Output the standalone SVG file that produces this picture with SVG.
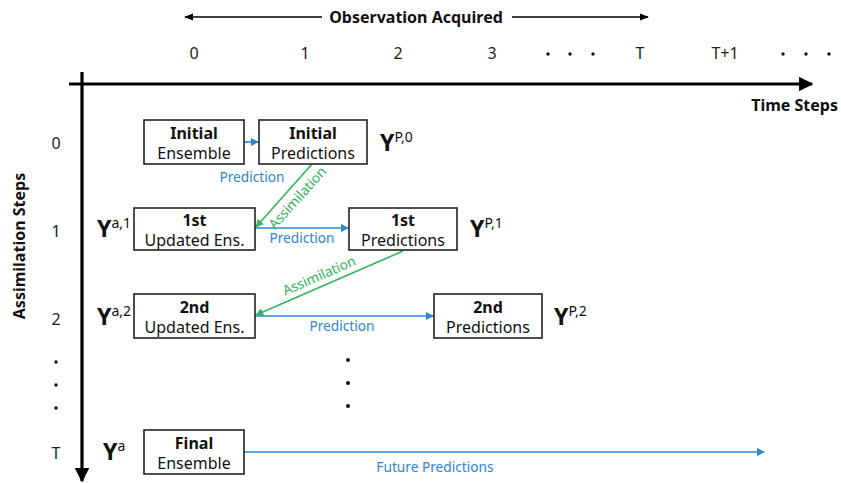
<svg xmlns="http://www.w3.org/2000/svg" width="841" height="483" viewBox="0 0 841 483">
  <defs>
    <marker id="ahBlack" viewBox="0 0 10 10" refX="9" refY="5" markerWidth="4.5" markerHeight="4.5" orient="auto" markerUnits="strokeWidth">
      <path d="M0,0 L10,5 L0,10 z" fill="#000"/>
    </marker>
    <marker id="ahThin" viewBox="0 0 10 10" refX="9" refY="5" markerWidth="6" markerHeight="6" orient="auto-start-reverse" markerUnits="strokeWidth">
      <path d="M0,1 L10,5 L0,9 z" fill="#000"/>
    </marker>
    <marker id="ahBlue" viewBox="0 0 10 10" refX="9" refY="5" markerWidth="5" markerHeight="5" orient="auto" markerUnits="strokeWidth">
      <path d="M0,0 L10,5 L0,10 z" fill="#2e86d4"/>
    </marker>
    <marker id="ahGreen" viewBox="0 0 10 10" refX="9" refY="5" markerWidth="5" markerHeight="5" orient="auto" markerUnits="strokeWidth">
      <path d="M0,0 L10,5 L0,10 z" fill="#2fb55a"/>
    </marker>
  </defs>
  <style>
    text { font-family: "Noto Sans", "Open Sans", "Liberation Sans", sans-serif; fill: #111; }
    .box { fill: #fff; stroke: #222; stroke-width: 1.6; }
    .b { font-weight: bold; font-size: 16px; text-anchor: middle; }
    .r { font-size: 16px; text-anchor: middle; }
    .tick { font-size: 16px; text-anchor: middle; fill: #222; }
    .axisTitle { font-weight: bold; font-size: 16px; }
    .Y { font-weight: bold; font-size: 23px; }
    .sup { font-size: 14px; font-weight: normal; }
    .lblBlue { font-size: 13.7px; fill: #2e86d4; text-anchor: middle; }
    .lblGreen { font-size: 13.7px; fill: #2fb55a; text-anchor: middle; }
    .axis { stroke: #000; stroke-width: 3.2; fill: none; }
    .pred { stroke: #2e86d4; stroke-width: 1.6; fill: none; }
    .assim { stroke: #2fb55a; stroke-width: 1.6; fill: none; }
    .dot { fill: #111; }
  </style>

  <!-- time axis header -->
  <g id="observation-header">
    <line x1="185" y1="17" x2="322" y2="17" stroke="#000" stroke-width="1.5" marker-start="url(#ahThin)"/>
    <line x1="512" y1="17" x2="648" y2="17" stroke="#000" stroke-width="1.5" marker-end="url(#ahThin)"/>
    <text class="axisTitle" x="416" y="23" text-anchor="middle">Observation Acquired</text>
  </g>

  <g id="time-ticks">
    <text class="tick" x="194" y="59">0</text>
    <text class="tick" x="305" y="59">1</text>
    <text class="tick" x="398" y="59">2</text>
    <text class="tick" x="492" y="59">3</text>
    <circle class="dot" cx="548" cy="54" r="1.7"/>
    <circle class="dot" cx="570" cy="54" r="1.7"/>
    <circle class="dot" cx="593" cy="54" r="1.7"/>
    <text class="tick" x="640" y="59">T</text>
    <text class="tick" x="725" y="59">T+1</text>
    <circle class="dot" cx="783" cy="54" r="1.7"/>
    <circle class="dot" cx="806" cy="54" r="1.7"/>
    <circle class="dot" cx="829" cy="54" r="1.7"/>
  </g>

  <!-- axes -->
  <g id="axes">
    <line class="axis" x1="69" y1="84" x2="812" y2="84" marker-end="url(#ahBlack)"/>
    <line class="axis" x1="82" y1="72" x2="82" y2="481" marker-end="url(#ahBlack)"/>
    <text class="axisTitle" x="838" y="111" text-anchor="end">Time Steps</text>
    <text class="axisTitle" x="0" y="0" text-anchor="middle" transform="translate(25,246) rotate(-90)">Assimilation Steps</text>
  </g>

  <g id="step-ticks">
    <text class="tick" x="56" y="149">0</text>
    <text class="tick" x="56" y="237">1</text>
    <text class="tick" x="56" y="325">2</text>
    <circle class="dot" cx="56" cy="362" r="1.7"/>
    <circle class="dot" cx="56" cy="385" r="1.7"/>
    <circle class="dot" cx="56" cy="408" r="1.7"/>
    <text class="tick" x="56" y="459">T</text>
  </g>

  <!-- connectors -->
  <g id="connectors">
    <line class="pred" x1="244" y1="142" x2="258" y2="142" marker-end="url(#ahBlue)"/>
    <line class="pred" x1="255" y1="228" x2="348" y2="228" marker-end="url(#ahBlue)"/>
    <line class="pred" x1="255" y1="316" x2="433" y2="316" marker-end="url(#ahBlue)"/>
    <line class="pred" x1="244" y1="452" x2="764" y2="452" marker-end="url(#ahBlue)"/>
    <line class="assim" x1="312" y1="164" x2="256" y2="227" marker-end="url(#ahGreen)"/>
    <line class="assim" x1="403" y1="251" x2="256" y2="315" marker-end="url(#ahGreen)"/>
    <text class="lblBlue" x="252" y="182">Prediction</text>
    <text class="lblBlue" x="302" y="243">Prediction</text>
    <text class="lblBlue" x="342" y="331">Prediction</text>
    <text class="lblBlue" x="435" y="472">Future Predictions</text>
    <text class="lblGreen" x="0" y="0" transform="translate(301,201) rotate(-48)">Assimilation</text>
    <text class="lblGreen" x="0" y="0" transform="translate(321,280) rotate(-23.5)">Assimilation</text>
  </g>

  <!-- nodes -->
  <g id="initial-ensemble">
    <rect class="box" x="144" y="120" width="100" height="44"/>
    <text class="b" x="194" y="139">Initial</text>
    <text class="r" x="194" y="159">Ensemble</text>
  </g>
  <g id="initial-predictions">
    <rect class="box" x="259" y="120" width="108" height="44"/>
    <text class="b" x="313" y="139">Initial</text>
    <text class="r" x="313" y="159">Predictions</text>
  </g>
  <g id="updated-1">
    <rect class="box" x="134" y="208" width="121" height="42"/>
    <text class="b" x="194.5" y="226">1st</text>
    <text class="r" x="194.5" y="246">Updated Ens.</text>
  </g>
  <g id="predictions-1">
    <rect class="box" x="349" y="208" width="108" height="42"/>
    <text class="b" x="403" y="226">1st</text>
    <text class="r" x="403" y="246">Predictions</text>
  </g>
  <g id="updated-2">
    <rect class="box" x="134" y="294" width="121" height="44"/>
    <text class="b" x="194.5" y="313">2nd</text>
    <text class="r" x="194.5" y="333">Updated Ens.</text>
  </g>
  <g id="predictions-2">
    <rect class="box" x="434" y="294" width="108" height="44"/>
    <text class="b" x="488" y="313">2nd</text>
    <text class="r" x="488" y="333">Predictions</text>
  </g>
  <g id="final-ensemble">
    <rect class="box" x="144" y="430" width="100" height="44"/>
    <text class="b" x="194" y="449">Final</text>
    <text class="r" x="194" y="469">Ensemble</text>
  </g>

  <!-- state symbols -->
  <g id="symbols">
    <text class="Y" x="380" y="151">Y<tspan class="sup" dy="-9">P,0</tspan></text>
    <text class="Y" x="97" y="237">Y<tspan class="sup" dy="-9">a,1</tspan></text>
    <text class="Y" x="470" y="237">Y<tspan class="sup" dy="-9">P,1</tspan></text>
    <text class="Y" x="97" y="325">Y<tspan class="sup" dy="-9">a,2</tspan></text>
    <text class="Y" x="554" y="325">Y<tspan class="sup" dy="-9">P,2</tspan></text>
    <text class="Y" x="103" y="460">Y<tspan class="sup" dy="-9">a</tspan></text>
  </g>

  <g id="ellipsis">
    <circle class="dot" cx="348" cy="360" r="2"/>
    <circle class="dot" cx="348" cy="383" r="2"/>
    <circle class="dot" cx="348" cy="406" r="2"/>
  </g>
</svg>
